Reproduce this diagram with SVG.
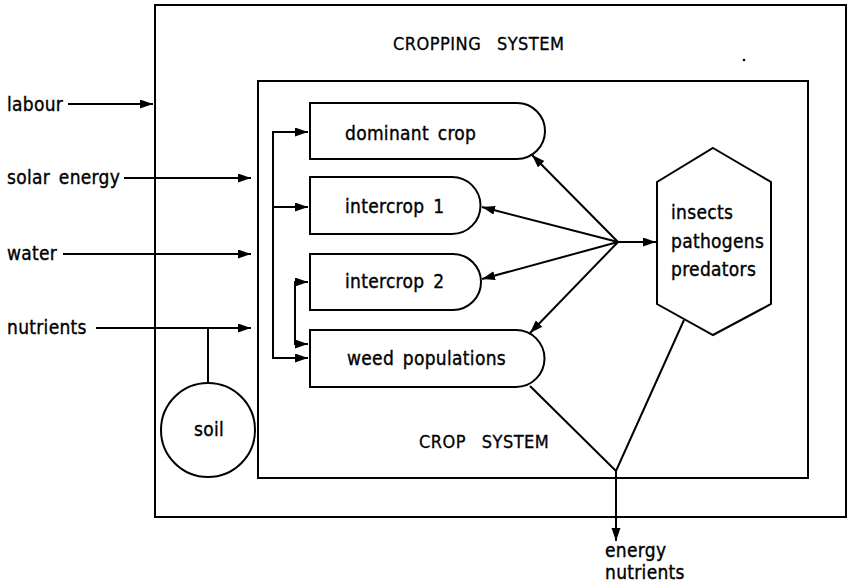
<svg xmlns="http://www.w3.org/2000/svg" width="849" height="584" viewBox="0 0 849 584">
  <style>
    .ln { fill: none; stroke: #000; stroke-width: 2; stroke-linejoin: miter; }
    .box { fill: #fff; stroke: #000; stroke-width: 2; }
    .t { font-family: "DejaVu Sans Condensed", "DejaVu Sans", "Liberation Sans", sans-serif; font-stretch: condensed; font-size: 19px; fill: #000; stroke: #000; stroke-width: 0.35px; letter-spacing: 0.3px; word-spacing: 3px; }
    .cap { font-family: "DejaVu Sans Condensed", "DejaVu Sans", "Liberation Sans", sans-serif; font-stretch: condensed; font-size: 18px; fill: #000; stroke: #000; stroke-width: 0.3px; letter-spacing: 0.5px; word-spacing: 10px; }
  </style>
  <defs>
    <marker id="arrow" markerUnits="userSpaceOnUse" markerWidth="14" markerHeight="10" refX="13" refY="4.5" orient="auto">
      <path d="M0,0 L13,4.5 L0,9 z" fill="#000"/>
    </marker>
  </defs>
  <rect width="849" height="584" fill="#fff"/>

  <!-- system boundaries -->
  <g id="cropping-system">
    <rect class="ln" x="155" y="5" width="691" height="512"/>
    <text class="cap" x="393" y="50">CROPPING SYSTEM</text>
    <circle cx="744" cy="60" r="1.3" fill="#000"/>
  </g>
  <g id="crop-system">
    <rect class="ln" x="258" y="81" width="550" height="397"/>
    <text class="cap" x="419" y="448">CROP SYSTEM</text>
  </g>

  <!-- external inputs -->
  <g id="inputs">
    <text class="t" x="7" y="111">labour</text>
    <text class="t" x="7" y="184">solar energy</text>
    <text class="t" x="7" y="260">water</text>
    <text class="t" x="7" y="334">nutrients</text>
  </g>

  <!-- soil -->
  <g id="soil">
    <circle class="box" cx="208" cy="430" r="47"/>
    <text class="t" x="209" y="436" text-anchor="middle">soil</text>
  </g>

  <!-- crop components -->
  <g id="dominant-crop">
    <path class="box" d="M310,103 H517 A28,28 0 0 1 517,159 H310 Z"/>
    <text class="t" x="345" y="140">dominant crop</text>
  </g>
  <g id="intercrop-1">
    <path class="box" d="M310,177 H452 A28.5,28.5 0 0 1 452,234 H310 Z"/>
    <text class="t" x="345" y="213">intercrop 1</text>
  </g>
  <g id="intercrop-2">
    <path class="box" d="M310,254 H453 A28,28 0 0 1 453,310 H310 Z"/>
    <text class="t" x="345" y="288">intercrop 2</text>
  </g>
  <g id="weed-populations">
    <path class="box" d="M310,330 H516 A28.5,28.5 0 0 1 516,387 H310 Z"/>
    <text class="t" x="347" y="365">weed populations</text>
  </g>

  <!-- pests and natural enemies -->
  <g id="pests">
    <polygon class="box" points="713,148 771,182 771,304 713,335 657,304 657,182"/>
    <text class="t" x="671" y="219">insects</text>
    <text class="t" x="671" y="248">pathogens</text>
    <text class="t" x="671" y="276">predators</text>
  </g>

  <!-- outputs -->
  <g id="outputs">
    <text class="t" x="605" y="557">energy</text>
    <text class="t" x="605" y="579">nutrients</text>
  </g>

  <!-- flows -->
  <g id="connectors">
    <!-- inputs to the systems -->
    <line class="ln" x1="68" y1="104" x2="153" y2="104" marker-end="url(#arrow)"/>
    <line class="ln" x1="124" y1="178" x2="251" y2="178" marker-end="url(#arrow)"/>
    <line class="ln" x1="63" y1="254" x2="251" y2="254" marker-end="url(#arrow)"/>
    <line class="ln" x1="96" y1="328" x2="251" y2="328" marker-end="url(#arrow)"/>
    <line class="ln" x1="208" y1="328" x2="208" y2="383"/>

    <!-- distribution to crop components -->
    <polyline class="ln" points="300,132 273,132 273,358 300,358"/>
    <line class="ln" x1="273" y1="132" x2="308" y2="132" marker-end="url(#arrow)"/>
    <line class="ln" x1="273" y1="207" x2="308" y2="207" marker-end="url(#arrow)"/>
    <line class="ln" x1="273" y1="358" x2="308" y2="358" marker-end="url(#arrow)"/>
    <polyline class="ln" points="300,282 295,282 295,344 300,344"/>
    <line class="ln" x1="295" y1="282" x2="308" y2="282" marker-end="url(#arrow)"/>
    <line class="ln" x1="295" y1="344" x2="308" y2="344" marker-end="url(#arrow)"/>

    <!-- pest interactions -->
    <line class="ln" x1="618" y1="242" x2="532" y2="155" marker-end="url(#arrow)"/>
    <line class="ln" x1="618" y1="242" x2="482" y2="207" marker-end="url(#arrow)"/>
    <line class="ln" x1="618" y1="242" x2="482" y2="279" marker-end="url(#arrow)"/>
    <line class="ln" x1="618" y1="242" x2="530" y2="333" marker-end="url(#arrow)"/>
    <line class="ln" x1="618" y1="242" x2="656" y2="242" marker-end="url(#arrow)"/>

    <!-- export of energy and nutrients -->
    <polyline class="ln" points="530,386 616,471 684,320"/>
    <line class="ln" x1="616" y1="471" x2="616" y2="541" marker-end="url(#arrow)"/>
  </g>
</svg>
